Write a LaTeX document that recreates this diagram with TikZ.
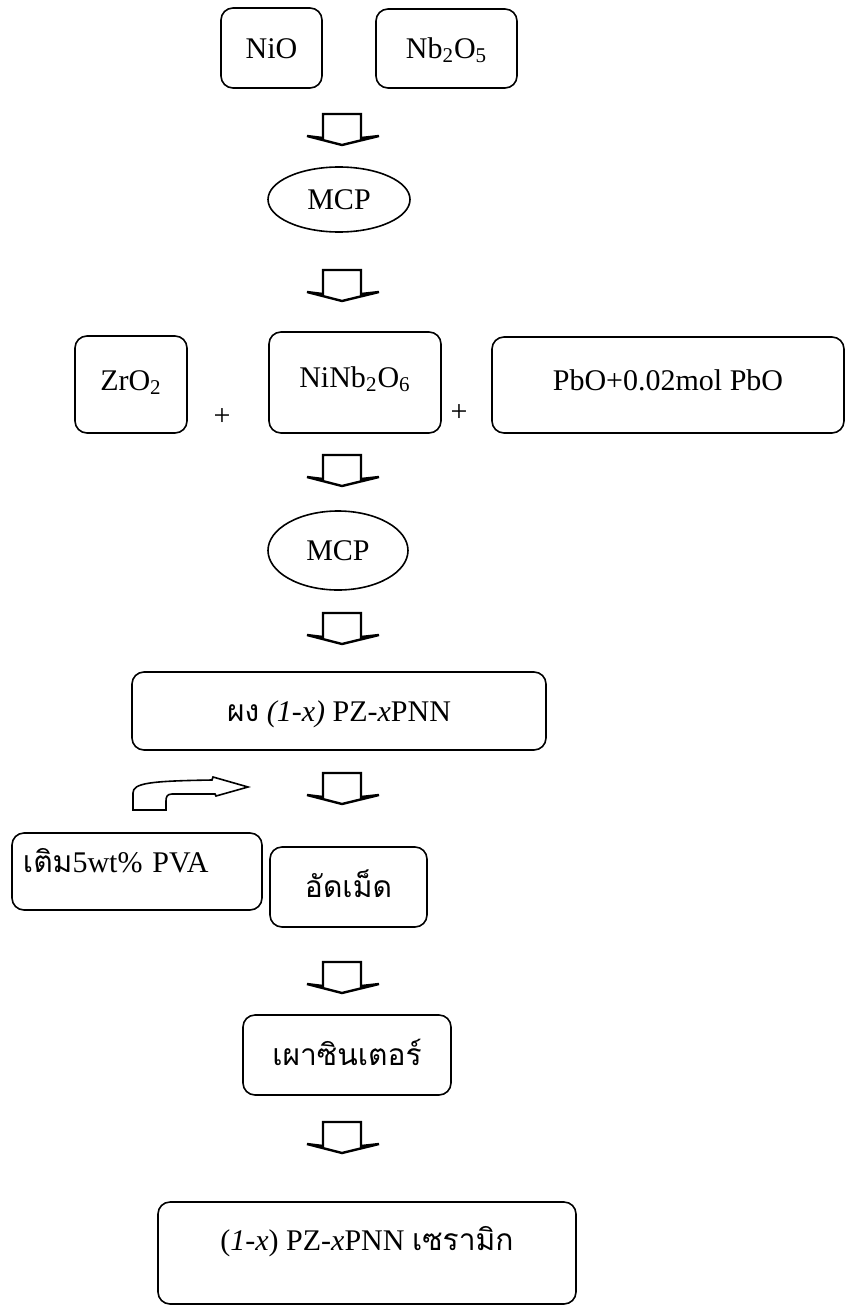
\documentclass[tikz,border=0pt]{standalone}
\usepackage{fontspec}
\setmainfont{Liberation Serif}
\newfontfamily\thaifont[Script=Thai]{Loma}
\usetikzlibrary{shapes.geometric}

\tikzset{
  box/.style={draw, line width=0.8pt, rounded corners=6pt, text height=10pt, text depth=0pt},
  oval/.style={draw, ellipse, line width=0.8pt, inner sep=0pt},
  downblock/.pic={
    \draw[line width=1.2pt, fill=white, line join=miter]
      (-19,0) -- (19,0) -- (19,24) -- (37,22) -- (0,31) -- (-35,22) -- (-19,24) -- cycle;
  }
}

\begin{document}
\begin{tikzpicture}[x=0.5pt, y=-0.5pt, font=\fontsize{15}{18}\selectfont]
  \useasboundingbox (0,0) rectangle (846,1306);
  % Starting oxides.
  \node[box, minimum width=50.5pt, minimum height=40pt] (nio) at (271.5,48) {NiO};
  \node[box, minimum width=70.5pt, minimum height=39.5pt] (nbo) at (446.5,48.5) {Nb\textsubscript{2}O\textsubscript{5}};
  \node[oval, minimum width=71pt, minimum height=32.5pt] (mcpa) at (339,199.5) {MCP};
  % Second mixing step.
  \node[box, minimum width=56pt, minimum height=48.5pt, text depth=4.5pt] (zro) at (131,384.5) {ZrO\textsubscript{2}};
  \node[box, minimum width=86pt, minimum height=50.5pt, text depth=5.5pt] (nno) at (355,382.5) {NiNb\textsubscript{2}O\textsubscript{6}};
  \node[box, minimum width=176pt, minimum height=48pt, text depth=5pt] (pbo) at (668,385) {PbO+0.02mol PbO};
  \node (plusa) at (222,417) {+};
  \node (plusb) at (459,413) {+};
  \node[oval, minimum width=70pt, minimum height=39.5pt] (mcpb) at (338,550.5) {MCP};
  % Powder, pressing and sintering.
  \node[box, minimum width=207pt, minimum height=39pt] (powder) at (339,711) {{\thaifont ผง} \textit{(1-x)} PZ-\textit{x}PNN};
  \node[box, minimum width=125pt, minimum height=38.5pt, text depth=9.5pt, text width=114pt, inner xsep=5.5pt, align=left] (pva) at (137,871.5) {{\thaifont เติม}5wt\% PVA};
  \node[box, minimum width=78.5pt, minimum height=40pt] (press) at (348.5,887) {\thaifont อัดเม็ด};
  \node[box, minimum width=104pt, minimum height=40pt] (sinter) at (347,1055) {\thaifont เผาซินเตอร์};
  \node[box, minimum width=209pt, minimum height=51pt, text depth=13pt] (ceramic) at (367,1253) {(\textit{1-x}) PZ-\textit{x}PNN {\thaifont เซรามิก}};
  % Block arrows between the steps.
  \foreach \t in {114,270,455,613,773,962,1122} \pic at (342,\t) {downblock};
  % The binder is added.
  \draw[line width=0.8pt, line join=miter] (133,810) -- (133,793) .. controls (133,783) and (150,781) .. (212,780)
    -- (213,777) -- (248,787) -- (216,796) -- (215,794) -- (172,794)
    .. controls (167,794) and (166,797) .. (166,801) -- (166,810) -- cycle;
\end{tikzpicture}
\end{document}
